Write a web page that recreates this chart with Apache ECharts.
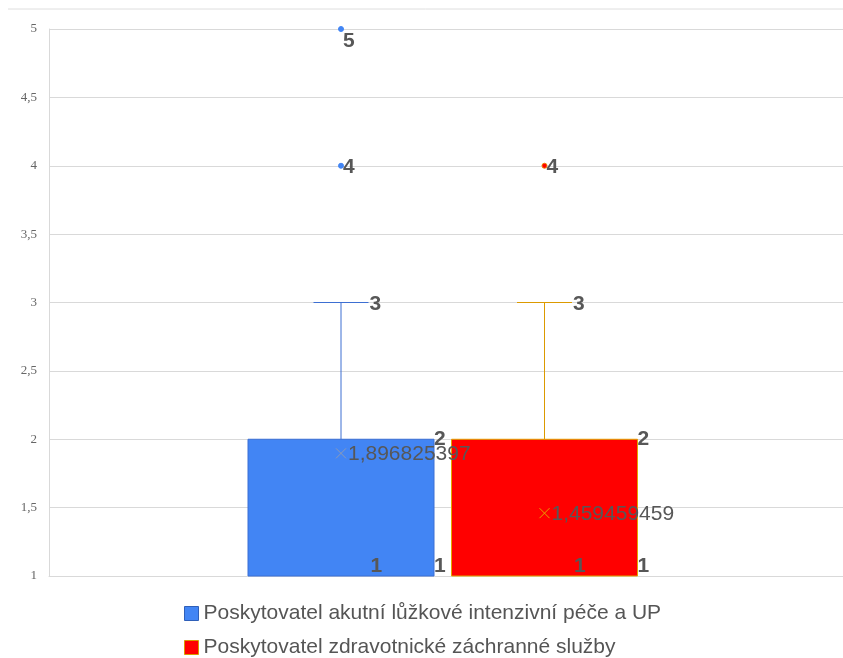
<!DOCTYPE html>
<html>
<head>
<meta charset="utf-8">
<script src="https://cdn.jsdelivr.net/npm/echarts@6/dist/echarts.min.js"></script>
<style>
  html, body { margin: 0; padding: 0; background: #fff; }
  #chart { width: 843px; height: 658px; }
</style>
</head>
<body>
<div id="chart"></div>
<script>
// data
const categories = [""];
const seriesNames = [
  "Poskytovatel akutní lůžkové intenzivní péče a UP",
  "Poskytovatel zdravotnické záchranné služby"
];
const boxMin = [1, 1];
const boxQ1 = [1, 1];
const boxMedian = [1, 1];
const boxQ3 = [2, 2];
const boxMax = [3, 3];
const boxMean = [1.896825397, 1.459459459];
const outliers = [[4, 5], [4]];
const yTicks = [1, 1.5, 2, 2.5, 3, 3.5, 4, 4.5, 5];

// styles
const fills = ["#4285f4", "#ff0000"];
const borders = ["#3b6fd4", "#e2a500"];
const whiskerColors = ["#3d6fd2", "#dc9a00"];
const boxOffsets = [-105, 98.5];
const boxHalf = 93;
const capHalf = 27.5;
const labelColor = "#575757";

const fmt = v => String(v).replace(".", ",");

function renderBox(idx) {
  return function (params, api) {
    const base = api.coord([api.value(0), api.value(1)]);
    const cx = base[0] + boxOffsets[idx];
    const y = v => api.coord([api.value(0), v])[1];
    const vMin = api.value(1), vQ1 = api.value(2), vQ3 = api.value(4), vMax = api.value(5), vMean = api.value(6);
    const yMin = y(vMin), yQ1 = y(vQ1), yQ3 = y(vQ3), yMax = y(vMax), yMean = y(vMean);
    const lbl = { fill: labelColor, fontSize: 21, fontWeight: "bold", fontFamily: "Liberation Sans, Arial" };
    const crossColor = idx === 0 ? "#8c9bb8" : "#e8a200";
    return {
      type: "group",
      children: [
        { type: "line", shape: { x1: cx, y1: yQ3, x2: cx, y2: yMax }, style: { stroke: whiskerColors[idx], lineWidth: 1 } },
        { type: "line", shape: { x1: cx - capHalf, y1: yMax, x2: cx + capHalf, y2: yMax }, style: { stroke: whiskerColors[idx], lineWidth: 1 } },
        { type: "rect", shape: { x: cx - boxHalf, y: yQ3, width: boxHalf * 2, height: yQ1 - yQ3 }, style: { fill: fills[idx], stroke: borders[idx], lineWidth: 1 } },
        { type: "line", z2: 50, shape: { x1: cx - 5, y1: yMean - 5, x2: cx + 5, y2: yMean + 5 }, style: { stroke: crossColor, lineWidth: 1 } },
        { type: "line", z2: 50, shape: { x1: cx - 5, y1: yMean + 5, x2: cx + 5, y2: yMean - 5 }, style: { stroke: crossColor, lineWidth: 1 } },
        { type: "text", z2: 100, style: Object.assign({ x: cx + capHalf + 1, y: yMax + 2, text: fmt(vMax), verticalAlign: "middle" }, lbl) },
        { type: "text", z2: 100, style: Object.assign({ x: cx + boxHalf, y: yQ3, text: fmt(vQ3), verticalAlign: "middle" }, lbl) },
        { type: "text", z2: 100, style: Object.assign({ x: cx + capHalf + 2, y: yMin + 1, text: fmt(vMin), verticalAlign: "bottom" }, lbl) },
        { type: "text", z2: 100, style: Object.assign({ x: cx + boxHalf, y: yQ1 + 1, text: fmt(vQ1), verticalAlign: "bottom" }, lbl) },
        { type: "text", z2: 100, style: { x: cx + 7, y: yMean + 1, text: fmt(vMean), verticalAlign: "middle", fill: labelColor, fontSize: 21, fontFamily: "Liberation Sans, Arial" } }
      ]
    };
  };
}

function renderOutlier(idx) {
  return function (params, api) {
    const p = api.coord([api.value(0), api.value(1)]);
    const cx = p[0] + boxOffsets[idx];
    const v = api.value(1);
    const atTop = v >= yTicks[yTicks.length - 1];
    return {
      type: "group",
      children: [
        { type: "circle", shape: { cx: cx, cy: p[1], r: 2.5 }, style: { fill: fills[idx], stroke: idx === 0 ? fills[idx] : "#f08000", lineWidth: 1 } },
        { type: "text", z2: 100, style: { x: cx + 2, y: p[1] + (atTop ? 12 : 1), text: fmt(v), verticalAlign: "middle", fill: labelColor, fontSize: 21, fontWeight: "bold", fontFamily: "Liberation Sans, Arial" } }
      ]
    };
  };
}

const series = [];
seriesNames.forEach((name, i) => {
  series.push({
    name: name,
    type: "custom",
    renderItem: renderBox(i),
    itemStyle: { color: fills[i], borderColor: borders[i], borderWidth: 1 },
    encode: { x: 0, y: [1, 2, 3, 4, 5] },
    data: [[0, boxMin[i], boxQ1[i], boxMedian[i], boxQ3[i], boxMax[i], boxMean[i]]],
    z: 2
  });
  series.push({
    name: name,
    type: "custom",
    renderItem: renderOutlier(i),
    itemStyle: { color: fills[i] },
    encode: { x: 0, y: 1 },
    data: outliers[i].map(v => [0, v]),
    z: 3
  });
});

const chart = echarts.init(document.getElementById("chart"));
chart.setOption({
  animation: false,
  backgroundColor: "#fff",
  grid: { left: 49, right: 0, top: 29, bottom: 82 },
  xAxis: {
    type: "category",
    data: categories,
    axisLine: { show: true, lineStyle: { color: "#d9d9d9" } },
    axisTick: { show: false },
    axisLabel: { show: false },
    splitLine: { show: false }
  },
  yAxis: {
    type: "value",
    min: yTicks[0],
    max: yTicks[yTicks.length - 1],
    interval: 0.5,
    axisLine: { show: true, lineStyle: { color: "#d9d9d9" } },
    axisTick: { show: false },
    axisLabel: {
      formatter: v => fmt(v),
      color: "#666",
      fontSize: 13,
      fontFamily: "Liberation Serif",
      margin: 12
    },
    splitLine: { lineStyle: { color: "#d9d9d9" } }
  },
  legend: {
    orient: "vertical",
    left: 179,
    top: 598,
    height: 120,
    itemGap: 13,
    itemWidth: 14,
    itemHeight: 14,
    icon: "rect",
    data: seriesNames.map((n, i) => ({ name: n, itemStyle: { color: fills[i], borderColor: i === 0 ? "#2f5fb8" : "#d99a00", borderWidth: 1 } })),
    textStyle: { fontSize: 21, color: "#555", fontFamily: "Liberation Sans, Arial" }
  },
  graphic: [
    { type: "line", shape: { x1: 8, y1: 9, x2: 843, y2: 9 }, style: { stroke: "#dedede", lineWidth: 1 } }
  ],
  series: series
});
</script>
</body>
</html>
